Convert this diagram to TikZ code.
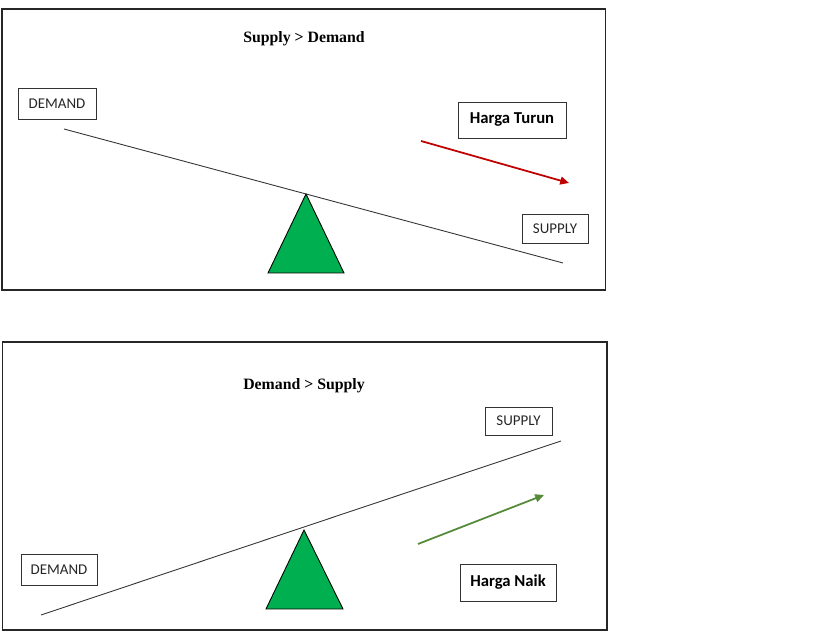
\documentclass[tikz,border=0pt]{standalone}
\usepackage{fontspec}
\usepackage{tikz}
\usetikzlibrary{arrows.meta}
\setmainfont{Liberation Serif}
\newfontfamily\boxfont{Carlito}
\definecolor{fulcrum}{RGB}{0,176,80}
\definecolor{down}{RGB}{192,0,0}
\definecolor{up}{RGB}{84,138,56}

\begin{document}
\begin{tikzpicture}[x=0.02cm,y=-0.02cm,
		label/.style={draw=black!80,line width=0.55pt,inner sep=0pt,text=black!85,font=\boxfont\fontsize{8.5}{10}\selectfont},
		price/.style={label,text=black,font=\boxfont\bfseries\fontsize{9.5}{11}\selectfont},
		title/.style={font=\bfseries\fontsize{9}{11}\selectfont},
		trend/.style={line width=1pt,-{Triangle[length=5pt,width=4.5pt]}}]
		\useasboundingbox (0,0) rectangle (819,634);
		% top panel: supply > demand
		\draw [black!85,line width=0.6pt] (2,9) rectangle (605.5,290);
		\node [title] (t1) at (304,38.5) {Supply > Demand};
		\node [label,minimum width=1.56cm,minimum height=0.62cm] (dem1) at (57,103.5) {DEMAND};
		\node [price,minimum width=2.16cm,minimum height=0.72cm] (hrg1) at (512,120) {Harga Turun};
		\node [label,minimum width=1.32cm,minimum height=0.58cm] (sup1) at (555,228.5) {SUPPLY};
		\coordinate (b1a) at (64,129);
		\coordinate (b1b) at (563,263);
		\draw [black!80,line width=0.5pt] (b1a) -- (b1b);
		\draw [black,line width=0.5pt,fill=fulcrum] (306,194) -- (344,273) -- (268,273) -- cycle;
		\coordinate (a1a) at (421,141);
		\coordinate (a1b) at (569,183);
		\draw [trend,down] (a1a) -- (a1b);
		% bottom panel: demand > supply
		\draw [black!85,line width=0.6pt] (2.5,342) rectangle (607,630);
		\node [title] (t2) at (304,385.5) {Demand > Supply};
		\node [label,minimum width=1.34cm,minimum height=0.56cm] (sup2) at (518.5,421) {SUPPLY};
		\node [label,minimum width=1.52cm,minimum height=0.62cm] (dem2) at (59,569.5) {DEMAND};
		\node [price,minimum width=1.92cm,minimum height=0.74cm] (hrg2) at (508,582.5) {Harga Naik};
		\coordinate (b2a) at (41,615);
		\coordinate (b2b) at (561,441);
		\draw [black!80,line width=0.5pt] (b2a) -- (b2b);
		\draw [black,line width=0.5pt,fill=fulcrum] (304,530) -- (343,609) -- (266,609) -- cycle;
		\coordinate (a2a) at (418,544);
		\coordinate (a2b) at (544,495);
		\draw [trend,up] (a2a) -- (a2b);
		\end{tikzpicture}
\end{document}
